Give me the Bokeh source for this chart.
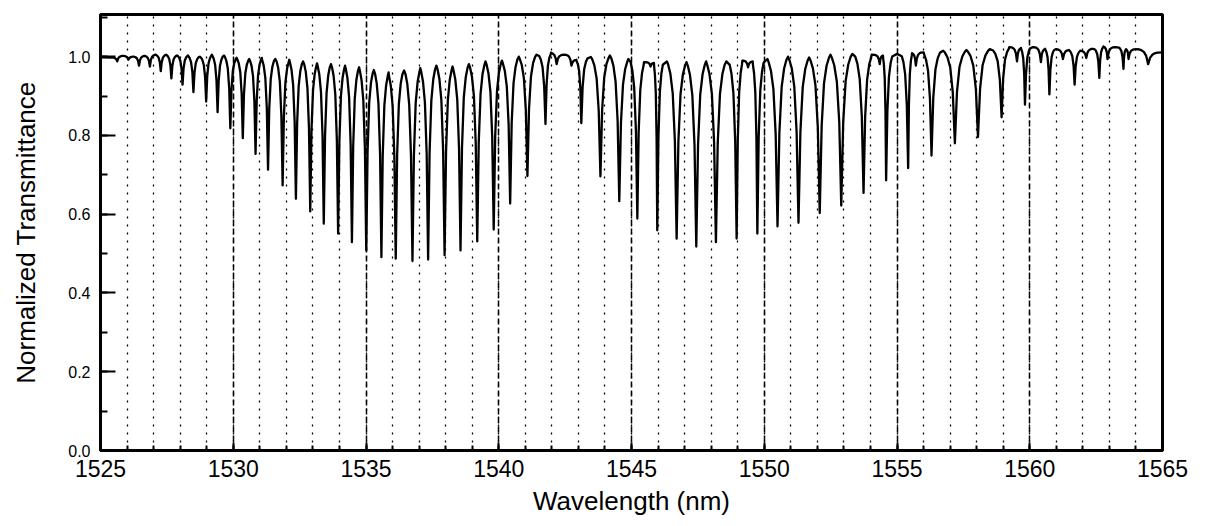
from bokeh.plotting import figure
from bokeh.models import SingleIntervalTicker, Range1d, PrintfTickFormatter
from bokeh.embed import file_html
from bokeh.resources import INLINE

# ---- data -----------------------------------------------------------------
x_start, x_end = 1525.0, 1565.0
y_max = 1.107
start_T = 0.998

# resonance dip centres (nm)
dip_nm = [1525.63, 1526.05, 1526.45, 1526.86, 1527.27, 1527.67, 1528.09, 1528.50, 1528.98, 1529.41,
          1529.89, 1530.36, 1530.84, 1531.31, 1531.86, 1532.36, 1532.90, 1533.41, 1533.95, 1534.47,
          1535.01, 1535.58, 1536.12, 1536.75, 1537.34, 1537.96, 1538.56, 1539.19, 1539.81, 1540.43,
          1541.08, 1541.76, 1542.18, 1542.74, 1543.11, 1543.83, 1544.54, 1545.22, 1545.72, 1545.97,
          1546.70, 1547.44, 1548.18, 1548.96, 1549.39, 1549.74, 1550.50, 1551.29, 1552.09, 1552.90,
          1553.74, 1554.35, 1554.59, 1555.42, 1555.71, 1556.30, 1557.18, 1558.05, 1558.94, 1559.52,
          1559.82, 1560.42, 1560.74, 1561.25, 1561.69, 1562.13, 1562.62, 1562.93, 1563.53, 1563.72,
          1564.46]
# transmittance at the bottom of each dip
dip_T = [0.988, 0.992, 0.977, 0.975, 0.963, 0.945, 0.929, 0.910, 0.886, 0.859,
         0.818, 0.793, 0.753, 0.713, 0.673, 0.639, 0.607, 0.576, 0.551, 0.529,
         0.508, 0.491, 0.487, 0.481, 0.485, 0.496, 0.508, 0.531, 0.561, 0.627,
         0.697, 0.829, 0.981, 0.977, 0.831, 0.696, 0.633, 0.589, 0.975, 0.559,
         0.538, 0.518, 0.529, 0.538, 0.973, 0.551, 0.569, 0.578, 0.603, 0.622,
         0.654, 0.981, 0.686, 0.717, 0.977, 0.749, 0.780, 0.796, 0.846, 0.988,
         0.878, 0.986, 0.904, 0.994, 0.929, 0.997, 0.946, 0.994, 0.969, 0.994,
         0.981]
# transmittance at the maximum following each dip
peak_T = [1.002, 1.000, 1.002, 1.005, 1.005, 1.003, 1.003, 1.000, 1.005, 1.003,
          0.997, 0.994, 0.997, 0.994, 0.992, 0.988, 0.983, 0.981, 0.977, 0.973,
          0.966, 0.960, 0.965, 0.971, 0.977, 0.975, 0.981, 0.988, 0.990, 1.000,
          1.005, 1.010, 1.005, 0.992, 0.999, 1.003, 0.994, 0.986, 0.984, 0.988,
          0.986, 0.988, 0.988, 0.990, 0.988, 0.994, 1.000, 0.998, 1.005, 1.007,
          1.005, 1.003, 1.007, 1.009, 1.011, 1.015, 1.017, 1.019, 1.024, 1.022,
          1.024, 1.020, 1.019, 1.017, 1.015, 1.020, 1.026, 1.024, 1.019, 1.019,
          1.011]

x_title = "Wavelength (nm)"
y_title = "Normalized Transmittance"

# ---- line-shape rendering of each dip (style: (fraction of period, fraction of depth))
SHOULDERS = ((0.43, 0.02), (0.32, 0.07), (0.20, 0.18), (0.09, 0.45))

xs, ys = [x_start], [start_T]
n = len(dip_nm)
for i in range(n):
    c, m = dip_nm[i], dip_T[i]
    gl = c - dip_nm[i - 1] if i > 0 else 0.45
    gr = dip_nm[i + 1] - c if i < n - 1 else 0.92
    s = 0.5 * (gl + gr)
    top_l = peak_T[i - 1] if i > 0 else start_T
    top_r = peak_T[i]
    for f, d in SHOULDERS:
        xs.append(c - f * min(s, 1.1 * gl))
        ys.append(top_l - d * (top_l - m))
    xs.append(c)
    ys.append(m)
    for f, d in reversed(SHOULDERS):
        xs.append(c + f * min(s, 1.1 * gr))
        ys.append(top_r - d * (top_r - m))
    if i < n - 1:
        xs.append(c + gr / 2)
    else:
        xs.append(x_end)
    ys.append(top_r)

# ---- figure ------------------------------------------------------------------
p = figure(width=1192, height=518,
           x_range=Range1d(x_start, x_end), y_range=Range1d(0, y_max),
           output_backend="svg", toolbar_location=None,
           min_border_left=100, min_border_right=30, min_border_top=14, min_border_bottom=67)
p.background_fill_color = "white"
p.border_fill_color = "white"
p.outline_line_color = "black"
p.outline_line_width = 3

xt = SingleIntervalTicker(interval=5, num_minor_ticks=5)
xa = p.xaxis[0]
xa.ticker = xt
xa.axis_line_width = 3
xa.major_tick_in = 8
xa.major_tick_out = 0
xa.minor_tick_in = 5
xa.minor_tick_out = 0
xa.major_tick_line_width = 2
xa.minor_tick_line_width = 2
xa.major_label_text_font = "Liberation Sans"
xa.major_label_text_font_size = "23px"
xa.major_label_text_color = "black"
xa.major_label_standoff = 9
xa.axis_label = x_title
xa.axis_label_text_font = "Liberation Sans"
xa.axis_label_text_font_size = "26px"
xa.axis_label_text_font_style = "normal"
xa.axis_label_text_color = "black"
xa.axis_label_standoff = 6

yt = SingleIntervalTicker(interval=0.2, num_minor_ticks=2)
ya = p.yaxis[0]
ya.ticker = yt
ya.formatter = PrintfTickFormatter(format="%.1f")
ya.axis_line_width = 3
ya.major_tick_in = 15
ya.major_tick_out = 0
ya.minor_tick_in = 7
ya.minor_tick_out = 0
ya.major_tick_line_width = 2
ya.minor_tick_line_width = 2
ya.major_label_text_font = "Liberation Sans"
ya.major_label_text_font_size = "16px"
ya.major_label_text_color = "black"
ya.major_label_standoff = 10
ya.axis_label = y_title
ya.axis_label_text_font = "Liberation Sans"
ya.axis_label_text_font_size = "26px"
ya.axis_label_text_font_style = "normal"
ya.axis_label_text_color = "black"
ya.axis_label_standoff = 24

p.xgrid.ticker = xt
p.xgrid.grid_line_color = "black"
p.xgrid.grid_line_dash = "6 3"
p.xgrid.grid_line_width = 1.5
p.xgrid.minor_grid_line_color = "black"
p.xgrid.minor_grid_line_dash = "2 6"
p.xgrid.minor_grid_line_width = 1.3
p.ygrid.visible = False

p.line(xs, ys, line_color="black", line_width=2.3, line_join="round")

open("out.html", "w").write(file_html(p, INLINE))
